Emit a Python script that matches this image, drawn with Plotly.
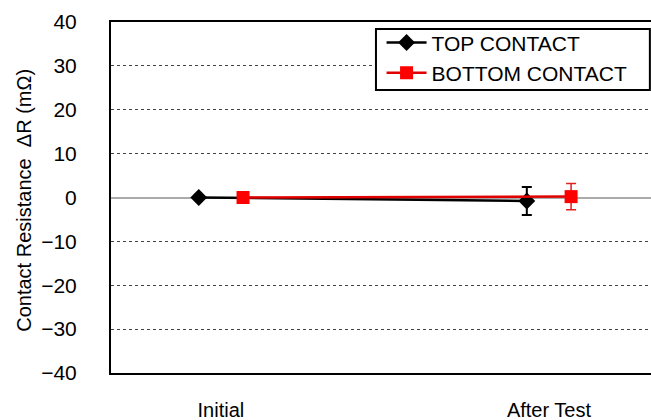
import plotly.graph_objects as go

categories = ["Initial", "After Test"]
top_values = [0.0, -0.8]
top_errors = [0.0, 3.2]
bottom_values = [0.0, 0.2]
bottom_errors = [0.0, 3.0]
y_ticks = [-40, -30, -20, -10, 0, 10, 20, 30, 40]

REG = "Liberation Sans, Arial, sans-serif"

fig = go.Figure()
fig.add_trace(go.Scatter(
    x=categories, y=top_values, name="TOP CONTACT", mode="lines+markers",
    offsetgroup="top",
    line=dict(color="black", width=2.5),
    marker=dict(symbol="diamond", size=13, color="black"),
    error_y=dict(type="data", array=top_errors, color="black", thickness=2, width=5, visible=True),
))
fig.add_trace(go.Scatter(
    x=categories, y=bottom_values, name="BOTTOM CONTACT", mode="lines+markers",
    offsetgroup="bottom",
    line=dict(color="#e00000", width=2.5),
    marker=dict(symbol="square", size=13, color="#ff0000"),
    error_y=dict(type="data", array=bottom_errors, color="#e02020", thickness=1.5, width=5, visible=True),
))

# plot area continues past the right window edge, as in the reference
fig.update_layout(
    width=670, height=420,
    margin=dict(l=111, r=0, t=22, b=47),
    paper_bgcolor="white", plot_bgcolor="white",
    scattermode="group", scattergap=0.73,
    font=dict(family=REG, color="black"),
    showlegend=True,
    legend=dict(
        x=0.484, y=0.999, xanchor="left", yanchor="top",
        borderwidth=0, bgcolor="rgba(0,0,0,0)",
        font=dict(family=REG, size=21, color="black"),
        tracegroupgap=0, itemwidth=40,
    ),
    shapes=[dict(
        type="rect", xref="paper", yref="paper",
        x0=0.474, x1=0.964, y0=0.806, y1=0.980,
        line=dict(color="black", width=2), fillcolor="white", layer="above",
    )],
    xaxis=dict(
        type="category", range=[-0.335, 1.369],
        showgrid=False, zeroline=False,
        showline=True, linecolor="black", linewidth=2, mirror=True,
        ticks="", ticklabelstandoff=18,
        tickfont=dict(family=REG, size=20, color="black"),
    ),
    yaxis=dict(
        range=[-40, 40], tickvals=y_ticks,
        showgrid=True, gridcolor="#444444", griddash="dot", gridwidth=1,
        zeroline=True, zerolinecolor="#aaaaaa", zerolinewidth=1.5,
        showline=True, linecolor="black", linewidth=2, mirror=False,
        ticks="", ticklabelstandoff=28,
        tickfont=dict(family=REG, size=21, color="black"),
    ),
    annotations=[dict(
        text="Contact Resistance  ΔR (mΩ)", textangle=-90,
        xref="paper", yref="paper", x=-0.156, y=0.493,
        xanchor="center", yanchor="middle", showarrow=False,
        font=dict(family=REG, size=20, color="black"),
    )],
)

fig.write_html(
    "out.html",
    config={"displayModeBar": False},
    post_script="document.body.style.margin='0';document.body.style.overflow='hidden';",
)
